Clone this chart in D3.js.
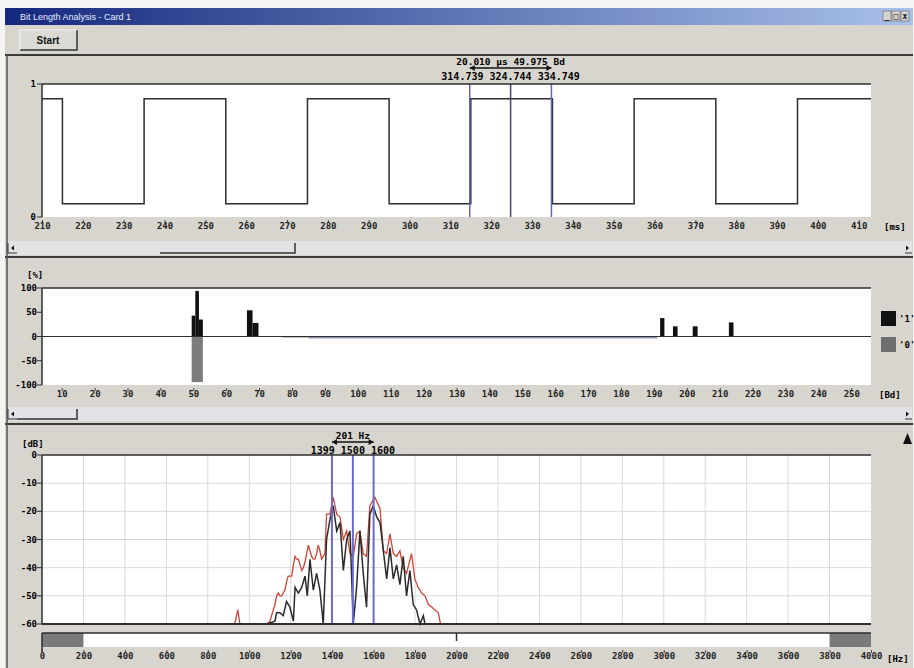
<!DOCTYPE html>
<meta charset="utf-8">
<title>Bit Length Analysis - Card 1</title>
<style>
    body {
        margin: 0;
        background: #f4f4f2;
    }
    svg {
        display: block;
        font-family: "DejaVu Sans Mono", monospace;
        font-weight: bold;
    }
</style>

<body>
    <script src="https://cdn.jsdelivr.net/npm/d3@7"></script>
    <script>/* JavaScript */

        /* Bit signal: edge times [ms] and level after each edge */
        var signalTimes = [210, 215, 235, 255, 275, 295, 315, 335, 355, 375, 395, 413];
        var signalLevels = [0.89, 0.1, 0.89, 0.1, 0.89, 0.1, 0.89, 0.1, 0.89, 0.1, 0.89, 0.89];
        var timeTicks = [210, 220, 230, 240, 250, 260, 270, 280, 290, 300, 310, 320, 330, 340, 350, 360, 370, 380, 390, 400, 410];
        var timeCursors = [314.739, 324.744, 334.749];
        var timeCursorText = "314.739 324.744 334.749";
        var timeSpanText = "20.010 \u00b5s  49.975 Bd";

        /* Bit rate histogram: [from Bd, to Bd, percent] */
        var onesBins = [[49.5, 50.6, 43], [50.6, 51.7, 94], [51.7, 52.9, 35], [66.3, 68.0, 54], [68.0, 69.8, 28],
            [191.9, 193.2, 38], [195.8, 197.2, 21], [201.8, 203.3, 21], [212.8, 214.2, 29]];
        var zerosBins = [[49.5, 52.9, -94], [77, 85, -2]];
        var noiseBand = [85, 191];
        var percentTicks = [-100, -50, 0, 50, 100];
        var baudTicks = [10, 20, 30, 40, 50, 60, 70, 80, 90, 100, 110, 120, 130, 140, 150, 160, 170, 180, 190, 200, 210, 220, 230, 240, 250];

        /* Spectrum: [Hz, dB] */
        var redTrace = [[930, -60], [945, -55], [955, -60], [1084, -60], [1100, -59], [1108, -57], [1116, -55], [1124, -53],
            [1132, -50], [1140, -49], [1148, -50], [1156, -50], [1164, -49], [1172, -48], [1180, -45], [1188, -43],
            [1196, -43], [1205, -43], [1213, -39], [1221, -36], [1229, -37], [1237, -37], [1245, -39], [1253, -41],
            [1261, -40], [1269, -38], [1277, -35], [1285, -32], [1293, -34], [1301, -36], [1309, -37], [1317, -37],
            [1325, -35], [1333, -32], [1341, -34], [1349, -37], [1357, -36], [1365, -35], [1373, -21], [1389, -21],
            [1405, -15], [1422, -21], [1438, -22], [1454, -30], [1470, -27], [1486, -35], [1502, -36], [1518, -28],
            [1534, -27], [1550, -35], [1566, -36], [1582, -18], [1598, -16], [1606, -15], [1631, -19], [1647, -34],
            [1663, -35], [1679, -28], [1695, -35], [1711, -36], [1727, -34], [1743, -40], [1759, -42], [1783, -35],
            [1799, -44], [1815, -47], [1832, -49], [1848, -50], [1864, -53], [1880, -54], [1896, -55], [1912, -56], [1923, -60]];
        var blackTrace = [[1084, -60], [1124, -59], [1132, -56], [1148, -56], [1164, -57], [1180, -52], [1196, -54],
            [1213, -59], [1221, -47], [1237, -49], [1253, -47], [1269, -43], [1280, -50], [1293, -37], [1309, -48],
            [1325, -42], [1341, -48], [1357, -60], [1373, -30], [1389, -23], [1405, -18], [1422, -27], [1438, -24],
            [1454, -41], [1470, -30], [1486, -27], [1502, -60], [1518, -47], [1534, -27], [1550, -42], [1566, -54],
            [1582, -21], [1598, -18], [1615, -22], [1631, -24], [1647, -34], [1663, -44], [1679, -33], [1695, -44],
            [1711, -39], [1727, -46], [1743, -36], [1759, -50], [1775, -41], [1791, -53], [1807, -55], [1824, -60],
            [1840, -57], [1848, -60]];
        var freqCursors = [1399, 1500, 1600];
        var freqCursorText = "1399 1500 1600";
        var freqSpanText = "201 Hz";
        var dbTicks = [0, -10, -20, -30, -40, -50, -60];
        var freqTicks = [0, 200, 400, 600, 800, 1000, 1200, 1400, 1600, 1800, 2000, 2200, 2400, 2600, 2800, 3000, 3200, 3400, 3600, 3800, 4000];
        var freqRange = [200, 3800];

        /* Layout constants */
        var width = 914,
            height = 668,
            left = 42,
            right = 871,
            face = "#d7d5ce",
            ink = "#2e2e2e";

        var svg = d3.select("body").append("svg")
            .attr("width", width)
            .attr("height", height);

        drawWindow();

        /* ---------- panel 1: bit signal ---------- */
        var x1 = d3.scaleLinear().domain([210, 413]).range([left, right]);
        var y1 = d3.scaleLinear().domain([0, 1]).range([217, 84]);

        svg.append("rect").attr("x", left).attr("y", y1(1)).attr("width", right - left).attr("height", y1(0) - y1(1)).attr("fill", "#fff");

        svg.append("path")
            .datum(signalTimes.map((t, i) => [t, signalLevels[i]]))
            .attr("fill", "none")
            .attr("stroke", ink)
            .attr("stroke-width", 1.5)
            .attr("d", d3.line().x(d => x1(d[0])).y(d => y1(d[1])).curve(d3.curveStepAfter));

        timeCursors.forEach((c, i) => {
            svg.append("line")
                .attr("x1", x1(c)).attr("x2", x1(c))
                .attr("y1", y1(1)).attr("y2", y1(0))
                .attr("stroke", i == 1 ? "#45456a" : "#6464c4")
                .attr("stroke-width", 1.5);
        });

        svg.append("line").attr("x1", left).attr("x2", right).attr("y1", y1(1)).attr("y2", y1(1)).attr("stroke", ink).attr("stroke-width", 1.5);
        svg.append("line").attr("x1", left).attr("x2", left).attr("y1", y1(1)).attr("y2", y1(0)).attr("stroke", ink).attr("stroke-width", 1.5);
        [0, 1].forEach(v => {
            svg.append("line").attr("x1", left - 5).attr("x2", left).attr("y1", y1(v)).attr("y2", y1(v)).attr("stroke", ink);
            svg.append("text").attr("x", left - 6).attr("y", y1(v) + 3).attr("text-anchor", "end").attr("font-size", 9).text(v);
        });
        bottomAxis(x1, timeTicks, 217);
        cursorHeader(x1(timeCursors[0]), x1(timeCursors[1]), x1(timeCursors[2]), 62, 77, timeSpanText, timeCursorText);
        svg.append("text").attr("x", 884).attr("y", 230).attr("font-size", 9).text("[ms]");

        /* ---------- panel 2: bit rate histogram ---------- */
        var x2 = d3.scaleLinear().domain([4, 256]).range([left, right]);
        var y2 = d3.scaleLinear().domain([-100, 100]).range([385, 288]);

        svg.append("rect").attr("x", left).attr("y", y2(100)).attr("width", right - left).attr("height", y2(-100) - y2(100)).attr("fill", "#fff");

        svg.append("line")
            .attr("x1", x2(noiseBand[0])).attr("x2", x2(noiseBand[1]))
            .attr("y1", y2(0) + 1).attr("y2", y2(0) + 1)
            .attr("stroke", "#8f97b8").attr("stroke-width", 2);

        svg.selectAll("rect.zero")
            .data(zerosBins)
            .enter()
            .append("rect")
            .attr("class", "zero")
            .attr("x", d => x2(d[0]))
            .attr("width", d => x2(d[1]) - x2(d[0]))
            .attr("y", y2(0))
            .attr("height", d => y2(d[2]) - y2(0))
            .attr("fill", "#7c7c7c");

        svg.selectAll("rect.one")
            .data(onesBins)
            .enter()
            .append("rect")
            .attr("class", "one")
            .attr("x", d => x2(d[0]))
            .attr("width", d => x2(d[1]) - x2(d[0]))
            .attr("y", d => y2(d[2]))
            .attr("height", d => y2(0) - y2(d[2]))
            .attr("fill", "#111");

        svg.append("line").attr("x1", left).attr("x2", right).attr("y1", y2(0)).attr("y2", y2(0)).attr("stroke", ink).attr("stroke-width", 1.2);
        svg.append("line").attr("x1", left).attr("x2", right).attr("y1", y2(100)).attr("y2", y2(100)).attr("stroke", ink).attr("stroke-width", 1.5);
        svg.append("line").attr("x1", left).attr("x2", left).attr("y1", y2(100)).attr("y2", y2(-100)).attr("stroke", ink).attr("stroke-width", 1.5);
        percentTicks.forEach(v => {
            svg.append("line").attr("x1", left - 5).attr("x2", left).attr("y1", y2(v)).attr("y2", y2(v)).attr("stroke", ink);
            svg.append("text").attr("x", left - 5).attr("y", y2(v) + 3).attr("text-anchor", "end").attr("font-size", 9).text(v);
        });
        bottomAxis(x2, baudTicks, 385);
        svg.append("text").attr("x", 27).attr("y", 278).attr("font-size", 9).text("[%]");
        svg.append("text").attr("x", 879).attr("y", 398).attr("font-size", 9).text("[Bd]");

        /* legend */
        svg.append("rect").attr("x", 881).attr("y", 311).attr("width", 15).attr("height", 15).attr("fill", "#111");
        svg.append("rect").attr("x", 881).attr("y", 337).attr("width", 15).attr("height", 15).attr("fill", "#6e6e6e");
        svg.append("text").attr("x", 899).attr("y", 322).attr("font-size", 9).text("'1'");
        svg.append("text").attr("x", 899).attr("y", 348).attr("font-size", 9).text("'0'");

        /* ---------- panel 3: spectrum ---------- */
        var x3 = d3.scaleLinear().domain([0, 4000]).range([left, right]);
        var y3 = d3.scaleLinear().domain([-60, 0]).range([624, 455]);

        svg.append("rect").attr("x", left).attr("y", y3(0)).attr("width", right - left).attr("height", y3(-60) - y3(0)).attr("fill", "#fff");

        svg.append("g")
            .selectAll("line.vg")
            .data(freqTicks.slice(1, -1))
            .enter()
            .append("line")
            .attr("x1", d => x3(d)).attr("x2", d => x3(d))
            .attr("y1", y3(0)).attr("y2", y3(-60))
            .attr("stroke", "#d9d9d9");
        svg.append("g")
            .selectAll("line.hg")
            .data(dbTicks.slice(1, -1))
            .enter()
            .append("line")
            .attr("x1", left).attr("x2", right)
            .attr("y1", d => y3(d)).attr("y2", d => y3(d))
            .attr("stroke", "#d9d9d9");

        var trace = d3.line().x(d => x3(d[0])).y(d => y3(d[1]));
        svg.append("path").datum(redTrace).attr("fill", "none").attr("stroke", "#cf4536").attr("stroke-width", 1.3).attr("d", trace);
        svg.append("path").datum(blackTrace).attr("fill", "none").attr("stroke", "#2a2a2a").attr("stroke-width", 1.5).attr("d", trace);

        freqCursors.forEach(c => {
            svg.append("line")
                .attr("x1", x3(c)).attr("x2", x3(c))
                .attr("y1", y3(0)).attr("y2", y3(-60))
                .attr("stroke", "#6a6ad2")
                .attr("stroke-width", 2);
        });

        svg.append("line").attr("x1", left).attr("x2", right).attr("y1", y3(0)).attr("y2", y3(0)).attr("stroke", ink).attr("stroke-width", 1.5);
        svg.append("line").attr("x1", left).attr("x2", right).attr("y1", y3(-60)).attr("y2", y3(-60)).attr("stroke", ink).attr("stroke-width", 2);
        svg.append("line").attr("x1", left).attr("x2", left).attr("y1", y3(0)).attr("y2", y3(-60)).attr("stroke", ink).attr("stroke-width", 1.5);
        dbTicks.forEach(v => {
            svg.append("line").attr("x1", left - 5).attr("x2", left).attr("y1", y3(v)).attr("y2", y3(v)).attr("stroke", ink);
            svg.append("text").attr("x", left - 5).attr("y", y3(v) + 3).attr("text-anchor", "end").attr("font-size", 9).text(v);
        });
        cursorHeader(x3(freqCursors[0]), x3(freqCursors[1]), x3(freqCursors[2]), 436, 451, freqSpanText, freqCursorText);
        svg.append("text").attr("x", 22).attr("y", 447).attr("font-size", 9).text("[dB]");

        /* frequency range bar */
        svg.append("rect").attr("x", left).attr("y", 633).attr("width", right - left).attr("height", 14).attr("fill", "#fff");
        svg.append("rect").attr("x", left).attr("y", 633).attr("width", x3(freqRange[0]) - left).attr("height", 14).attr("fill", "#7a7a7a");
        svg.append("rect").attr("x", x3(freqRange[1])).attr("y", 633).attr("width", right - x3(freqRange[1])).attr("height", 14).attr("fill", "#7a7a7a");
        svg.append("line").attr("x1", left).attr("x2", right).attr("y1", 633).attr("y2", 633).attr("stroke", ink).attr("stroke-width", 1.5);
        svg.append("line").attr("x1", x3(2000)).attr("x2", x3(2000)).attr("y1", 633).attr("y2", 641).attr("stroke", ink).attr("stroke-width", 1.5);
        svg.append("line").attr("x1", left).attr("x2", left).attr("y1", 633).attr("y2", 652).attr("stroke", ink).attr("stroke-width", 1.5);
        bottomAxis(x3, freqTicks, 647);
        svg.append("text").attr("x", 887).attr("y", 662).attr("font-size", 9).text("[Hz]");

        /* small triangle button */
        svg.append("path").attr("d", "M903,444 L912,444 L907.5,433 Z").attr("fill", "#111");


        /* tick marks just under the plot and labels below */
        function bottomAxis(scale, ticks, y) {
            var axis = d3.axisBottom(scale).tickValues(ticks).tickFormat(d3.format("d")).tickSize(0).tickPadding(6);
            var g = svg.append("g")
                .attr("transform", "translate(0," + y + ")")
                .call(axis);
            g.select(".domain").remove();
            g.selectAll(".tick text")
                .attr("font-family", "DejaVu Sans Mono")
                .attr("font-weight", "bold")
                .attr("font-size", 9)
                .attr("fill", "#222");
            g.selectAll(".tick line")
                .attr("y1", 3).attr("y2", 6)
                .attr("stroke", "#444");
        }

        /* cursor readout: span arrow and the three cursor values */
        function cursorHeader(xa, xm, xb, yTop, yBottom, spanText, valuesText) {
            svg.append("text").attr("x", xm).attr("y", yTop + 3).attr("text-anchor", "middle").attr("font-size", 9.5).text(spanText);
            svg.append("line").attr("x1", xa).attr("x2", xb).attr("y1", yTop + 6).attr("y2", yTop + 6).attr("stroke", "#111").attr("stroke-width", 1.5);
            svg.append("path").attr("d", "M" + xa + "," + (yTop + 6) + " l5,-3 l0,6 Z").attr("fill", "#111");
            svg.append("path").attr("d", "M" + xb + "," + (yTop + 6) + " l-5,-3 l0,6 Z").attr("fill", "#111");
            svg.append("text").attr("x", xm).attr("y", yBottom + 3).attr("text-anchor", "middle").attr("font-size", 10).text(valuesText);
        }

        function drawWindow() {
            svg.append("rect").attr("x", 5).attr("y", 8).attr("width", 908).attr("height", 660).attr("fill", face);

            var grad = svg.append("defs").append("linearGradient").attr("id", "titlebar");
            grad.append("stop").attr("offset", "0%").attr("stop-color", "#16287e");
            grad.append("stop").attr("offset", "100%").attr("stop-color", "#a9c1ea");
            svg.append("rect").attr("x", 5).attr("y", 8).attr("width", 908).attr("height", 17).attr("fill", "url(#titlebar)");
            svg.append("text").attr("x", 20).attr("y", 20).attr("font-family", "Liberation Sans").attr("font-weight", "normal")
                .attr("font-size", 9).attr("fill", "#e8ecff").text("Bit Length Analysis - Card 1");
            ["_", "\u25a1", "x"].forEach((s, i) => {
                svg.append("rect").attr("x", 883 + i * 9).attr("y", 11).attr("width", 8).attr("height", 10).attr("fill", "#d4d2cc").attr("stroke", "#555").attr("stroke-width", 0.5);
                svg.append("text").attr("x", 887 + i * 9).attr("y", 19).attr("text-anchor", "middle").attr("font-size", 8).attr("fill", "#111").text(s);
            });

            /* Start button */
            svg.append("rect").attr("x", 20).attr("y", 30).attr("width", 57).attr("height", 20).attr("fill", "#dcdad4");
            svg.append("path").attr("d", "M20,50 L77,50 L77,30").attr("fill", "none").attr("stroke", "#333").attr("stroke-width", 1.5);
            svg.append("path").attr("d", "M20,50 L20,30 L77,30").attr("fill", "none").attr("stroke", "#f4f4f4").attr("stroke-width", 1);
            svg.append("text").attr("x", 48).attr("y", 44).attr("text-anchor", "middle").attr("font-family", "Liberation Sans")
                .attr("font-size", 10).attr("fill", "#111").text("Start");

            /* separators */
            [55, 257, 424].forEach(y => {
                svg.append("line").attr("x1", 5).attr("x2", 913).attr("y1", y).attr("y2", y).attr("stroke", "#3a3a3a").attr("stroke-width", 2);
            });
            svg.append("line").attr("x1", 7).attr("x2", 7).attr("y1", 55).attr("y2", 668).attr("stroke", "#555").attr("stroke-width", 1.5);

            /* scrollbars */
            [[241, 160, 295], [407, 17, 77]].forEach(s => {
                svg.append("rect").attr("x", 8).attr("y", s[0]).attr("width", 904).attr("height", 14).attr("fill", "#e3e3e7");
                svg.append("path").attr("d", "M" + s[1] + "," + (s[0] + 12) + " L" + s[2] + "," + (s[0] + 12) + " L" + s[2] + "," + (s[0] + 2))
                    .attr("fill", "none").attr("stroke", "#333").attr("stroke-width", 1.5);
                svg.append("path").attr("d", "M8," + (s[0] + 2) + " L8," + (s[0] + 12) + " L17," + (s[0] + 12))
                    .attr("fill", "none").attr("stroke", "#333").attr("stroke-width", 1);
                svg.append("path").attr("d", "M11," + (s[0] + 7) + " l3,-2.5 l0,5 Z").attr("fill", "#111");
                svg.append("path").attr("d", "M909," + (s[0] + 7) + " l-3,-2.5 l0,5 Z").attr("fill", "#111");
                svg.append("line").attr("x1", 905).attr("x2", 912).attr("y1", s[0] + 12).attr("y2", s[0] + 12).attr("stroke", "#333");
            });
        }

    </script>
</body>
